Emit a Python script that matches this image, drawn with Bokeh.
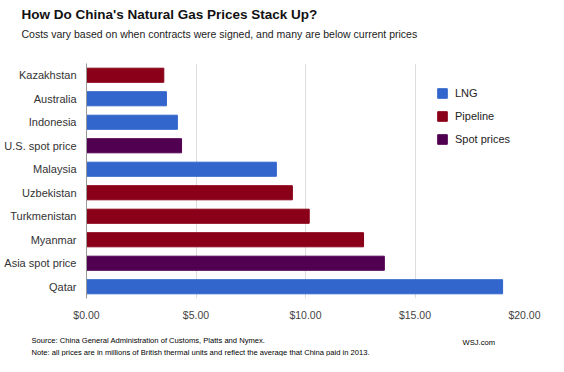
from bokeh.plotting import figure
from bokeh.models import Range1d, FactorRange, Label, Legend, LegendItem, ColumnDataSource, NumeralTickFormatter, FixedTicker
from bokeh.embed import file_html
from bokeh.resources import INLINE

countries = ["Kazakhstan", "Australia", "Indonesia", "U.S. spot price", "Malaysia",
             "Uzbekistan", "Turkmenistan", "Myanmar", "Asia spot price", "Qatar"]
prices = [3.53, 3.65, 4.15, 4.34, 8.67, 9.40, 10.17, 12.65, 13.60, 19.00]
kinds = ["Pipeline", "LNG", "LNG", "Spot prices", "LNG",
         "Pipeline", "Pipeline", "Pipeline", "Spot prices", "LNG"]
kind_order = ["LNG", "Pipeline", "Spot prices"]
kind_colors = {"LNG": "#3366CC", "Pipeline": "#8A0018", "Spot prices": "#510051"}
x_ticks = [0, 5, 10, 15, 20]

FONT = "Liberation Sans"

p = figure(width=548, height=356, output_backend="svg", toolbar_location=None,
           y_range=FactorRange(*reversed(countries), range_padding=0),
           x_range=Range1d(0, 20),
           min_border_left=86, min_border_right=24, min_border_top=63, min_border_bottom=58)
p.outline_line_color = None
p.background_fill_color = "white"
p.border_fill_color = "white"

items = []
for k in kind_order:
    idx = [i for i, kk in enumerate(kinds) if kk == k]
    src = ColumnDataSource(dict(y=[countries[i] for i in idx], x=[prices[i] for i in idx]))
    r = p.hbar(y="y", right="x", left=0, height=0.6, source=src,
               fill_color=kind_colors[k], line_color=kind_colors[k], line_width=1)
    items.append(LegendItem(label=k, renderers=[r]))

legend = Legend(items=items, location=(350, 153), orientation="vertical",
                glyph_width=12, glyph_height=12, label_height=12, spacing=11,
                label_standoff=7, padding=0, margin=0,
                border_line_color=None, background_fill_alpha=0,
                label_text_font=FONT, label_text_font_size="11px", label_text_color="#222222")
p.add_layout(legend, "center")

p.xgrid.grid_line_color = "#dddddd"
p.xgrid.ticker = FixedTicker(ticks=x_ticks)
p.ygrid.grid_line_color = None

p.xaxis.ticker = FixedTicker(ticks=x_ticks)
p.xaxis.formatter = NumeralTickFormatter(format="$0.00")
p.xaxis.axis_line_color = None
p.xaxis.major_tick_line_color = None
p.xaxis.minor_tick_line_color = None
p.xaxis.major_tick_out = 0
p.xaxis.major_tick_in = 0
p.xaxis.major_label_standoff = 10
p.xaxis.major_label_text_font = FONT
p.xaxis.major_label_text_font_size = "10.5px"
p.xaxis.major_label_text_color = "#444444"

p.yaxis.axis_line_color = "#999999"
p.yaxis.axis_line_width = 1
p.yaxis.major_tick_line_color = None
p.yaxis.minor_tick_line_color = None
p.yaxis.major_tick_out = 0
p.yaxis.major_tick_in = 0
p.yaxis.major_label_standoff = 10
p.yaxis.major_label_text_font = FONT
p.yaxis.major_label_text_font_size = "11px"
p.yaxis.major_label_text_color = "#333333"

def add_label(place, text, x, y, size, bold=False, color="#000000"):
    p.add_layout(Label(x=x, y=y, x_units="screen", y_units="screen", text=text,
                       text_font=FONT, text_font_size=size,
                       text_font_style="bold" if bold else "normal",
                       text_color=color, text_baseline="alphabetic", text_align="left"), place)

add_label("above", "How Do China's Natural Gas Prices Stack Up?", -65, 49.5, "13.5px", bold=True, color="#111111")
add_label("above", "Costs vary based on when contracts were signed, and many are below current prices", -65, 14.5, "10.5px", color="#222222")
add_label("below", "Source: China General Administration of Customs, Platts and Nymex.", -55, -7.9, "7.6px")
add_label("below", "Note: all prices are in millions of British thermal units and reflect the average that China paid in 2013.", -55, -11.1, "7.6px")
add_label("below", "WSJ.com", 376, 8.5, "7.6px")

open("out.html", "w").write(file_html(p, INLINE))
